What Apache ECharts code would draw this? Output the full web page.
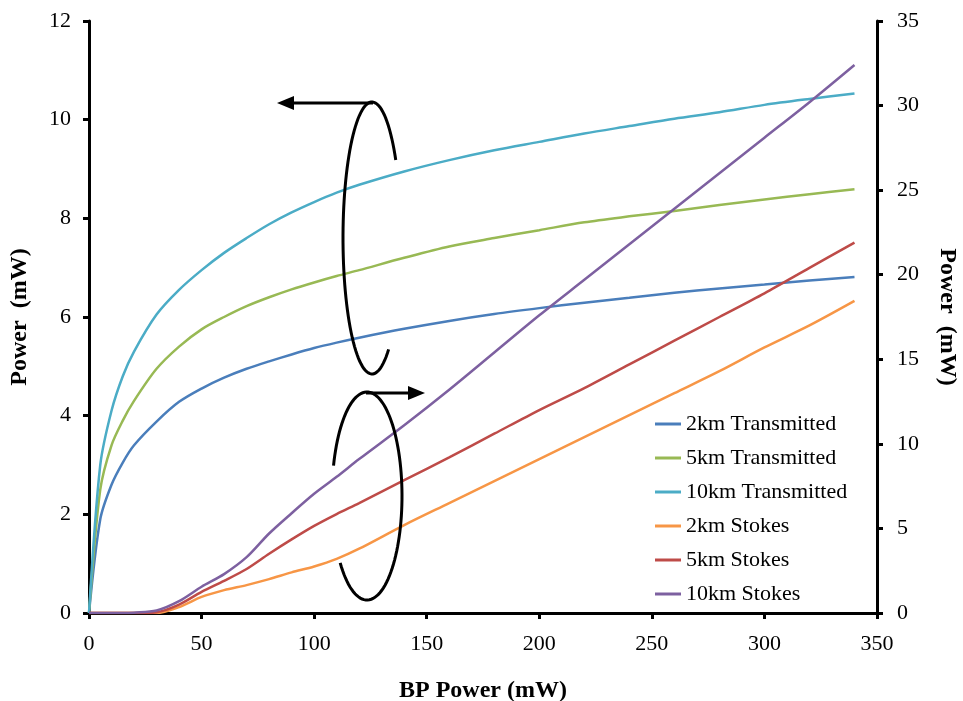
<!DOCTYPE html>
<html>
<head>
<meta charset="utf-8">
<title>BP Power</title>
<script src="https://cdn.jsdelivr.net/npm/echarts@6/dist/echarts.min.js"></script>
<style>
    html, body { margin: 0; padding: 0; background: #fff; overflow: hidden; }
    #chart { width: 963px; height: 701px; }
</style>
</head>
<body>
<div id="chart"></div>
<script>
// BP power (mW), shared by all curves
const bpPower = [0, 5, 10, 15, 20, 30, 40, 50, 60, 70, 80, 90, 100, 110, 120, 140, 160, 180, 200, 220, 240, 260, 280, 300, 320, 340];

// transmitted power, left axis (mW)
const trans2km = [0, 1.9, 2.6, 3.05, 3.4, 3.88, 4.28, 4.55, 4.77, 4.95, 5.1, 5.24, 5.37, 5.48, 5.58, 5.76, 5.92, 6.06, 6.18, 6.29, 6.39, 6.49, 6.58, 6.66, 6.74, 6.81];
const trans5km = [0, 2.5, 3.4, 3.9, 4.3, 4.95, 5.4, 5.75, 6.0, 6.22, 6.4, 6.56, 6.7, 6.83, 6.95, 7.2, 7.43, 7.6, 7.76, 7.92, 8.04, 8.15, 8.27, 8.38, 8.49, 8.59];
const trans10km = [0, 3.0, 4.1, 4.8, 5.3, 6.05, 6.55, 6.95, 7.3, 7.6, 7.88, 8.12, 8.33, 8.52, 8.68, 8.95, 9.18, 9.38, 9.55, 9.72, 9.87, 10.02, 10.15, 10.3, 10.42, 10.53];

// stokes power, right axis (mW)
const stokes2km = [0, 0, 0, 0, 0, 0, 0.35, 0.95, 1.35, 1.65, 2.0, 2.4, 2.75, 3.2, 3.8, 5.2, 6.5, 7.8, 9.1, 10.4, 11.7, 13.0, 14.3, 15.7, 17.0, 18.45];
const stokes5km = [0, 0, 0, 0, 0, 0.05, 0.5, 1.25, 1.9, 2.6, 3.5, 4.35, 5.15, 5.85, 6.5, 7.85, 9.2, 10.6, 12.0, 13.3, 14.7, 16.1, 17.5, 18.9, 20.4, 21.9];
const stokes10km = [0, 0, 0, 0, 0.02, 0.15, 0.7, 1.55, 2.3, 3.3, 4.7, 5.9, 7.05, 8.05, 9.1, 11.1, 13.2, 15.4, 17.6, 19.7, 21.8, 23.9, 26.0, 28.1, 30.2, 32.4];

const seriesNames = ['2km Transmitted', '5km Transmitted', '10km Transmitted', '2km Stokes', '5km Stokes', '10km Stokes'];

const FONT = '"Liberation Serif", "Times New Roman", serif';

function pairs(ys) {
    return bpPower.map((x, i) => [x, ys[i]]);
}

function makeLine(name, ys, color, yAxisIndex) {
    return {
        name: name,
        type: 'line',
        yAxisIndex: yAxisIndex,
        data: pairs(ys),
        smooth: 0.3,
        symbol: 'none',
        lineStyle: { color: color, width: 2.5 },
        itemStyle: { color: color }
    };
}

// points along part of an ellipse, for the hand drawn rotation marks
function ellipsePts(cx, cy, rx, ry, t0, t1) {
    const pts = [];
    for (let t = t0; t <= t1; t += 3) {
        const a = t * Math.PI / 180;
        pts.push([cx + rx * Math.cos(a), cy + ry * Math.sin(a)]);
    }
    return pts;
}

const chart = echarts.init(document.getElementById('chart'));

const axisLine = { show: true, lineStyle: { color: '#000', width: 3 } };
const axisTick = { show: true, inside: false, length: 6, lineStyle: { color: '#000', width: 3 } };
const tickLabel = { color: '#000', fontFamily: FONT, fontSize: 22 };
const nameStyle = { color: '#000', fontFamily: FONT, fontSize: 24, fontWeight: 'bold' };

const option = {
    backgroundColor: '#fff',
    animation: false,
    // v6: keep the grid where it is put, do not shrink it for the axis names
    grid: { left: 89, right: 86, top: 21, bottom: 88, containLabel: false, outerBoundsMode: 'none' },
    legend: {
        orient: 'vertical',
        left: 650,
        top: 408,
        data: seriesNames,
        icon: 'rect',
        itemWidth: 26,
        itemHeight: 3,
        itemGap: 12,
        textStyle: { color: '#000', fontFamily: FONT, fontSize: 22, lineHeight: 22 }
    },
    xAxis: {
        type: 'value',
        min: 0,
        max: 350,
        interval: 50,
        name: 'BP Power (mW)',
        nameLocation: 'middle',
        nameGap: 66,
        nameTextStyle: nameStyle,
        axisLine: axisLine,
        axisTick: axisTick,
        axisLabel: Object.assign({ margin: 20 }, tickLabel),
        splitLine: { show: false }
    },
    yAxis: [
        {
            type: 'value',
            position: 'left',
            min: 0,
            max: 12,
            interval: 2,
            name: 'Power  (mW)',
            nameLocation: 'middle',
            nameRotate: 90,
            nameGap: 57,
            nameTextStyle: nameStyle,
            axisLine: axisLine,
            axisTick: axisTick,
            axisLabel: Object.assign({ margin: 18 }, tickLabel),
            splitLine: { show: false }
        },
        {
            type: 'value',
            position: 'right',
            min: 0,
            max: 35,
            interval: 5,
            name: 'Power  (mW)',
            nameLocation: 'middle',
            nameRotate: -90,
            nameGap: 58,
            nameTextStyle: nameStyle,
            axisLine: axisLine,
            axisTick: axisTick,
            axisLabel: Object.assign({ margin: 20 }, tickLabel),
            splitLine: { show: false }
        }
    ],
    series: [
        makeLine(seriesNames[0], trans2km, '#4A7EBB', 0),
        makeLine(seriesNames[1], trans5km, '#98B954', 0),
        makeLine(seriesNames[2], trans10km, '#4BACC6', 0),
        makeLine(seriesNames[3], stokes2km, '#F79646', 1),
        makeLine(seriesNames[4], stokes5km, '#BE4B48', 1),
        makeLine(seriesNames[5], stokes10km, '#7D60A0', 1)
    ],
    graphic: [
        // upper mark -> left axis
        {
            type: 'polyline',
            shape: { points: ellipsePts(372, 238, 29, 136, 55, 327) },
            style: { stroke: '#000', lineWidth: 3, fill: null },
            z: 100
        },
        {
            type: 'line',
            shape: { x1: 373, y1: 103, x2: 292, y2: 103 },
            style: { stroke: '#000', lineWidth: 3 },
            z: 100
        },
        {
            type: 'polygon',
            shape: { points: [[277, 103], [294, 96], [294, 110]] },
            style: { fill: '#000' },
            z: 100
        },
        // lower mark -> right axis
        {
            type: 'polyline',
            shape: { points: ellipsePts(367, 496, 35, 104, 197, 501) },
            style: { stroke: '#000', lineWidth: 3, fill: null },
            z: 100
        },
        {
            type: 'line',
            shape: { x1: 366, y1: 393, x2: 410, y2: 393 },
            style: { stroke: '#000', lineWidth: 3 },
            z: 100
        },
        {
            type: 'polygon',
            shape: { points: [[425, 393], [408, 386], [408, 400]] },
            style: { fill: '#000' },
            z: 100
        }
    ]
};

chart.setOption(option);
</script>
</body>
</html>
